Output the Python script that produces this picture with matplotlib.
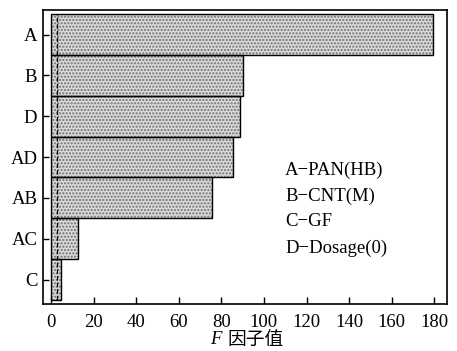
import matplotlib.pyplot as plt

plt.rcParams['font.family'] = ['Liberation Serif', 'Noto Sans CJK SC']

factors = ['A', 'B', 'D', 'AD', 'AB', 'AC', 'C']
f_values = [179.2, 90.1, 88.8, 85.5, 75.5, 12.8, 4.7]
f_crit = 2.7
legend_lines = ['A\u2212PAN(HB)', 'B\u2212CNT(M)', 'C\u2212GF', 'D\u2212Dosage(0)']
xticks = list(range(0, 181, 20))

fig = plt.figure(figsize=(4.57, 3.51), dpi=100)
ax = fig.add_axes([43 / 457, 47 / 351, 404 / 457, 294 / 351])

pos = list(range(len(factors)))[::-1]
# stippled fill, then the outline on top
ax.barh(pos, f_values, height=1.0, color='#d8d8d8', hatch='.....',
        edgecolor='#6e6e6e', linewidth=0)
ax.barh(pos, f_values, height=1.0, color='none', edgecolor='black', linewidth=1.0)
ax.vlines(f_crit, -0.5, len(factors) - 0.5, colors='black', linestyles='--', linewidth=0.9)

ax.set_xlim(-3.8, 186)
ax.set_ylim(-0.6, len(factors) - 0.4)
ax.set_xticks(xticks)
ax.set_yticks(pos)
ax.set_yticklabels(factors)
ax.tick_params(axis='x', direction='in', length=5, width=1, pad=7, labelsize=13.5)
ax.tick_params(axis='y', direction='in', length=4, width=1, pad=4, labelsize=13.5)
for s in ax.spines.values():
    s.set_linewidth(1.2)

for i, t in enumerate(legend_lines):
    ax.text(285 / 457, 1 - (170 + 26 * i) / 351, t, transform=fig.transFigure,
            fontsize=13.5, va='center', ha='left')

fig.text(222 / 457, 1 - 340 / 351, 'F', fontsize=13.5, style='italic', ha='right', va='center')
fig.text(227 / 457, 1 - 340 / 351, '因子值', fontsize=13.5, ha='left', va='center')

fig.savefig('out.png', dpi=100)
